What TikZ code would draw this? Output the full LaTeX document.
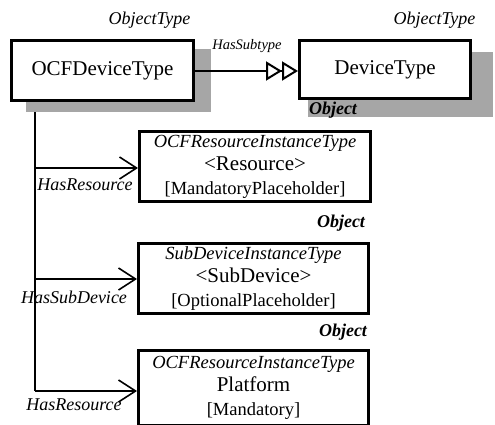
\documentclass[tikz,border=0pt]{standalone}
\usepackage{fontspec}
\setmainfont{Liberation Serif}
\usetikzlibrary{arrows.meta,calc}
\pgfdeclarelayer{bottom}
\pgfdeclarelayer{background}
\pgfsetlayers{bottom,background,main}
\tikzset{
  box/.style={draw, line width=3pt, fill=white, rectangle, inner sep=0pt, align=center, font=\fontsize{19}{23.5}\selectfont},
  shadowfill/.style={fill=black!35, draw=none},
  conn/.style={line width=1.6pt},
  lbl/.style={inner sep=0pt, font=\fontsize{18}{20}\selectfont\itshape},
  objlbl/.style={inner sep=0pt, font=\fontsize{18}{20}\selectfont\bfseries\itshape},
  barb/.style={-{Straight Barb[length=17pt,width=22pt,line width=1.6pt]}},
  subtype/.style={-{Triangle[open,length=16pt,width=19pt,line width=2pt,fill=white]Triangle[open,length=16pt,width=19pt,line width=2pt,fill=white]}},
}
\newcommand{\typeline}[1]{{\fontsize{18.5}{23.5}\selectfont\itshape #1}}
\newcommand{\nameline}[1]{{\fontsize{21}{23.5}\selectfont #1}}
\newcommand{\ruleline}[1]{{\fontsize{18.5}{23.5}\selectfont #1}}
\begin{document}
\begin{tikzpicture}[x=1pt,y=-1pt]
\useasboundingbox (0,0) rectangle (495,424);
\clip (0,0) rectangle (495,424);
% boxes
\node[box, minimum width=182pt, minimum height=60pt, font=\fontsize{21}{24}\selectfont] (ocf) at (102.5,70.5) {OCFDeviceType};
\node[box, minimum width=171pt, minimum height=58pt, font=\fontsize{21}{24}\selectfont] (dev) at (385,69.5) {DeviceType};
\node[box, minimum width=231pt, minimum height=70pt] (res) at (255,166.5)
  {\typeline{OCFResourceInstanceType}\\ \nameline{<Resource>}\\ \ruleline{[MandatoryPlaceholder]}};
\node[box, minimum width=230pt, minimum height=70pt] (sub) at (253.5,278.5)
  {\typeline{SubDeviceInstanceType}\\ \nameline{<SubDevice>}\\ \ruleline{[OptionalPlaceholder]}};
\node[box, minimum width=230pt, minimum height=75pt] (plat) at (253.5,387.5)
  {\typeline{OCFResourceInstanceType}\\ \nameline{Platform}\\ \ruleline{[Mandatory]}};
% shadows
\begin{pgfonlayer}{background}
\fill[shadowfill] (26,49) rectangle (211,112);
\fill[shadowfill] (308,52) rectangle (493,117);
\end{pgfonlayer}
% trunk
\coordinate (t0) at (35,102);
\coordinate (t1) at (35,168);
\coordinate (t2) at (35,279);
\coordinate (t3) at (35,391);
\begin{pgfonlayer}{bottom}
\draw[conn] (t0) -- (t3);
\end{pgfonlayer}
\draw[conn, barb] (t1) -- (t1 -| res.west);
\draw[conn, barb] (t2) -- (t2 -| sub.west);
\draw[conn, barb] (t3) -- (t3 -| plat.west);
\coordinate (s0) at (195,71);
\draw[conn, subtype] (s0) -- (s0 -| dev.west);
% labels
\node[lbl] (ot1) at (149.5,20) {ObjectType};
\node[lbl] (ot2) at (434.5,20) {ObjectType};
\node[inner sep=0pt, font=\fontsize{14.5}{16}\selectfont\itshape] (hst) at (247,46) {HasSubtype};
\node[objlbl] (ob1) at (333,110) {Object};
\node[lbl] (hr1) at (85,185) {HasResource};
\node[objlbl] (ob2) at (341,223) {Object};
\node[lbl] (hsd) at (74,297) {HasSubDevice};
\node[objlbl] (ob3) at (343,332) {Object};
\node[lbl] (hr2) at (74,405) {HasResource};
\end{tikzpicture}
\end{document}
